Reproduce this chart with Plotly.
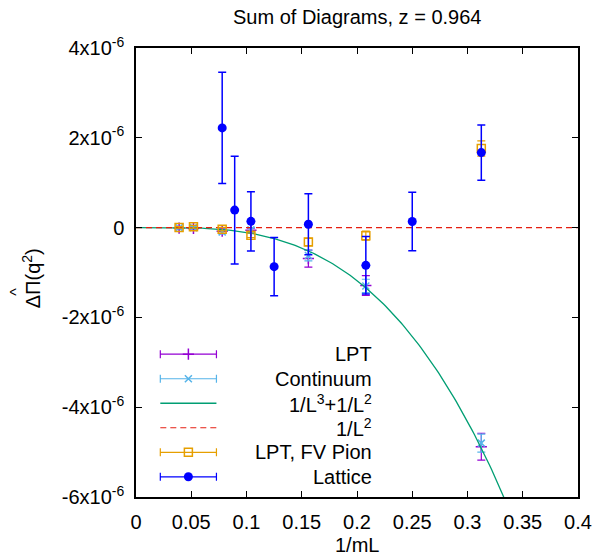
import plotly.graph_objects as go

# ---------------- data ----------------
SCALE = 1e-6
x_small = [0.039, 0.052, 0.078, 0.104, 0.156, 0.208, 0.3125]

lpt_y = [-0.01, -0.02, -0.08, -0.06, -0.69, -1.29, -4.88]
lpt_err = [0.02, 0.03, 0.05, 0.05, 0.19, 0.22, 0.30]

cont_y = [-0.005, 0.0, -0.10, -0.05, -0.62, -1.30, -4.80]
cont_err = [0.02, 0.02, 0.04, 0.05, 0.12, 0.15, 0.20]

fv_y = [0.005, 0.02, -0.035, -0.17, -0.32, -0.18, 1.76]
fv_err = [0.02, 0.03, 0.04, 0.05, 0.08, 0.10, 0.17]

lat_x = [0.078, 0.0893, 0.104, 0.125, 0.156, 0.208, 0.25, 0.3125]
lat_y = [2.22, 0.39, 0.14, -0.87, 0.075, -0.84, 0.135, 1.67]
lat_err = [1.24, 1.20, 0.66, 0.65, 0.68, 0.64, 0.65, 0.615]

# fit parameters: y = A/L^3 + B/L^2 (x = 1/mL)
FIT_A = -1.85e-4
FIT_B = 7.5e-6
FIT_B2 = 0.0  # 1/L^2 only fit

y_tickvals = [-6, -4, -2, 0, 2, 4]
y_ticktext = ["-6x10<sup>-6</sup>", "-4x10<sup>-6</sup>", "-2x10<sup>-6</sup>", "0",
              "2x10<sup>-6</sup>", "4x10<sup>-6</sup>"]
x_tickvals = [0, 0.05, 0.1, 0.15, 0.2, 0.25, 0.3, 0.35, 0.4]
x_ticktext = ["0", "0.05", "0.1", "0.15", "0.2", "0.25", "0.3", "0.35", "0.4"]

legend_names = ["LPT", "Continuum", "1/L<sup>3</sup>+1/L<sup>2</sup>", "1/L<sup>2</sup>",
                "LPT, FV Pion", "Lattice"]
title_text = "Sum of Diagrams, z = 0.964"

# ---------------- styles ----------------
C_LPT = "#9400d3"
C_CONT = "#56b4e9"
C_FIT = "#009e73"
C_RED = "#e51e10"
C_FV = "#e69f00"
C_LAT = "#0000ff"
FONT = "Liberation Sans, Arial, Helvetica, sans-serif"
FS = 20

# page body has an 8px margin; compensate
PAGE_OFF = 8
FIG_W, FIG_H = 604 - PAGE_OFF, 557 - PAGE_OFF

def sc(v):
    return [t * SCALE for t in v]

fig = go.Figure()

fig.add_trace(go.Scatter(
    x=x_small, y=sc(lpt_y), mode="markers",
    marker=dict(symbol="cross-thin", size=8, line=dict(color=C_LPT, width=1.5)),
    error_y=dict(type="data", array=sc(lpt_err), color=C_LPT, thickness=1.2, width=4),
    showlegend=False))

fig.add_trace(go.Scatter(
    x=x_small, y=sc(cont_y), mode="markers",
    marker=dict(symbol="x-thin", size=7, line=dict(color=C_CONT, width=1.5)),
    error_y=dict(type="data", array=sc(cont_err), color=C_CONT, thickness=1.2, width=4),
    showlegend=False))

n = 201
fx = [0.4 * i / (n - 1) for i in range(n)]
fy = [FIT_A * t ** 3 + FIT_B * t ** 2 for t in fx]
fig.add_trace(go.Scatter(x=fx, y=fy, mode="lines",
                         line=dict(color=C_FIT, width=1.3), showlegend=False))

fy2 = [FIT_B2 * t ** 2 for t in fx]
fig.add_trace(go.Scatter(x=fx, y=fy2, mode="lines",
                         line=dict(color=C_RED, width=1.2, dash="6px,4px"), showlegend=False))

fig.add_trace(go.Scatter(
    x=x_small, y=sc(fv_y), mode="markers",
    marker=dict(symbol="square-open", size=8, color=C_FV, line=dict(color=C_FV, width=1.5)),
    error_y=dict(type="data", array=sc(fv_err), color=C_FV, thickness=1.2, width=4),
    showlegend=False))

fig.add_trace(go.Scatter(
    x=lat_x, y=sc(lat_y), mode="markers",
    marker=dict(symbol="circle", size=9, color=C_LAT),
    error_y=dict(type="data", array=sc(lat_err), color=C_LAT, thickness=1.5, width=4),
    showlegend=False))

# ---------------- manual gnuplot-style key (overlay axes 0..1) ----------------
KEY_X0, KEY_X1 = 0.055, 0.182
KEY_XM = (KEY_X0 + KEY_X1) / 2
KEY_TEXT_X = 0.539
KEY_Y_TOP, KEY_DY = 0.318, 0.0546
key_y = [KEY_Y_TOP - i * KEY_DY for i in range(6)]
half = (KEY_X1 - KEY_X0) / 2

def key_err(i, color, marker):
    fig.add_trace(go.Scatter(
        x=[KEY_XM], y=[key_y[i]], xaxis="x2", yaxis="y2", mode="markers",
        marker=marker,
        error_x=dict(type="constant", value=half, color=color, thickness=1.2, width=4),
        showlegend=False, hoverinfo="skip"))

key_err(0, C_LPT, dict(symbol="cross-thin", size=8, line=dict(color=C_LPT, width=1.5)))
key_err(1, C_CONT, dict(symbol="x-thin", size=7, line=dict(color=C_CONT, width=1.5)))
fig.add_trace(go.Scatter(x=[KEY_X0, KEY_X1], y=[key_y[2]] * 2, xaxis="x2", yaxis="y2",
                         mode="lines", line=dict(color=C_FIT, width=1.3),
                         showlegend=False, hoverinfo="skip"))
fig.add_trace(go.Scatter(x=[KEY_X0, KEY_X1], y=[key_y[3]] * 2, xaxis="x2", yaxis="y2",
                         mode="lines", line=dict(color=C_RED, width=1.2, dash="6px,4px"),
                         showlegend=False, hoverinfo="skip"))
key_err(4, C_FV, dict(symbol="square-open", size=8, color=C_FV, line=dict(color=C_FV, width=1.5)))
key_err(5, C_LAT, dict(symbol="circle", size=9, color=C_LAT))

annotations = []
for i, name in enumerate(legend_names):
    annotations.append(dict(x=KEY_TEXT_X, y=key_y[i], xref="paper", yref="paper",
                            text=name, showarrow=False, xanchor="right", yanchor="middle",
                            font=dict(family=FONT, size=FS, color="black")))

annotations.append(dict(x=0.5, y=1.069, xref="paper", yref="paper", text=title_text,
                        showarrow=False, xanchor="center", yanchor="middle",
                        font=dict(family=FONT, size=FS, color="black")))
annotations.append(dict(x=0.5, y=-0.108, xref="paper", yref="paper", text="1/mL",
                        showarrow=False, xanchor="center", yanchor="middle",
                        font=dict(family=FONT, size=FS, color="black")))
annotations.append(dict(x=-0.2366, y=0.488, xref="paper", yref="paper",
                        text="\u0394\u03a0(q<sup>2</sup>)", textangle=-90,
                        showarrow=False, xanchor="center", yanchor="middle",
                        font=dict(family=FONT, size=FS, color="black")))
annotations.append(dict(x=-0.2700, y=0.4566, xref="paper", yref="paper",
                        text="^", textangle=-90,
                        showarrow=False, xanchor="center", yanchor="middle",
                        font=dict(family=FONT, size=16, color="black")))

axis_common = dict(showline=True, linecolor="black", linewidth=1.5, mirror="ticks",
                   ticks="inside", ticklen=6, tickwidth=1.2, tickcolor="black",
                   showgrid=False, zeroline=False,
                   tickfont=dict(family=FONT, size=FS, color="black"))

fig.update_layout(
    width=FIG_W, height=FIG_H,
    margin=dict(l=136 - PAGE_OFF, r=20, t=48 - PAGE_OFF, b=60),
    paper_bgcolor="white", plot_bgcolor="white",
    xaxis=dict(range=[0, 0.4], tickvals=x_tickvals, ticktext=x_ticktext,
               ticklabelstandoff=6, **axis_common),
    yaxis=dict(range=[-6 * SCALE, 4 * SCALE], tickvals=[v * SCALE for v in y_tickvals],
               ticktext=y_ticktext, ticklabelstandoff=6, **axis_common),
    xaxis2=dict(range=[0, 1], overlaying="x", visible=False, fixedrange=True),
    yaxis2=dict(range=[0, 1], overlaying="y", visible=False, fixedrange=True),
    annotations=annotations,
    showlegend=False,
)

fig.write_html("out.html")
